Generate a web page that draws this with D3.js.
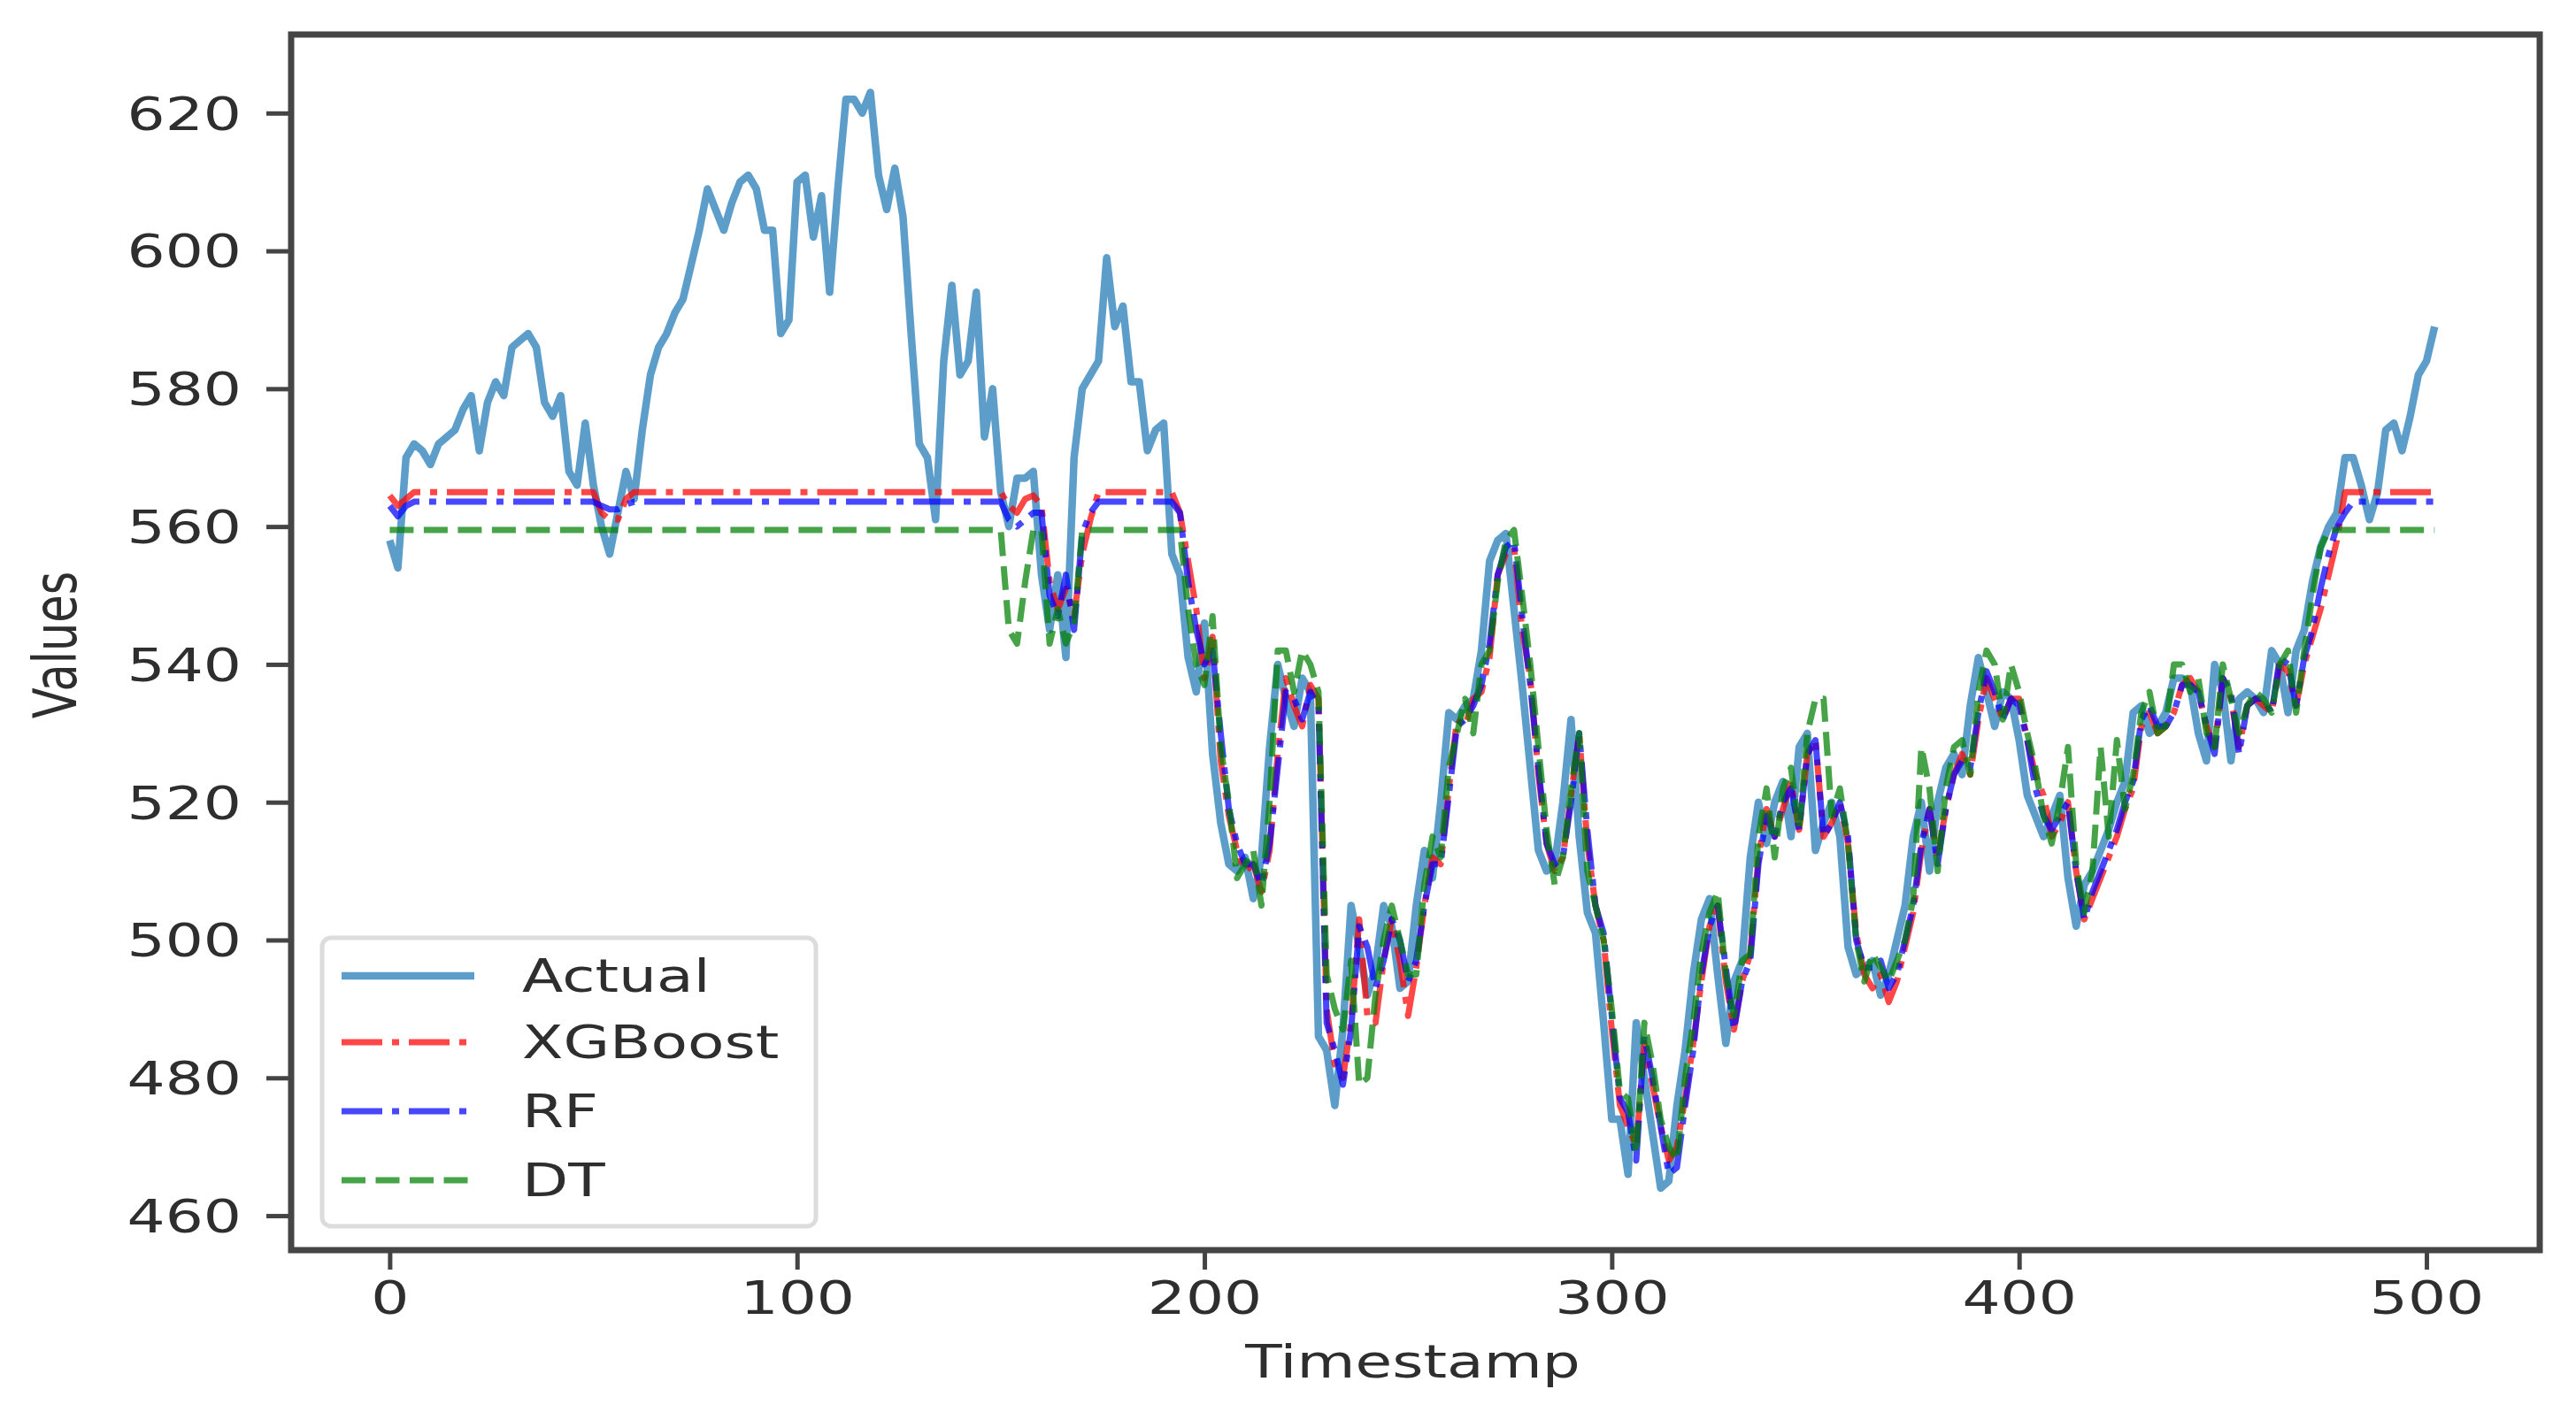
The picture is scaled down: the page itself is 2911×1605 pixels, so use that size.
<!DOCTYPE html>
<html>
<head>
<meta charset="utf-8">
<script src="https://cdn.jsdelivr.net/npm/d3@7"></script>
<style>
  body { margin: 0; background: #fff; }
  svg text { font-family: "DejaVu Sans", sans-serif; }
</style>
</head>
<body>
<div id="chart"></div>
<script>
// Values, one value every 2 timestamps (t = 0, 2, ... 502)
var actual = [
  558,554,570,572,571,569,572,573,574,577,
  579,571,578,581,579,586,587,588,586,578,
  576,579,568,566,575,566,560,556,562,568,
  564,574,582,586,588,591,593,598,603,609,
  606,603,607,610,611,609,603,603,588,590,
  610,611,602,608,594,609,622,622,620,623,
  611,606,612,605,588,572,570,561,584,595,
  582,584,594,573,580,565,560,567,567,568,
  553,545,553,541,570,580,582,584,599,589,
  592,581,581,571,574,575,556,553,541,536,
  546,527,517,511,510,512,506,512,528,540,
  535,531,538,536,486,484,476,487,505,499,
  492,496,505,502,493,494,505,513,509,520,
  533,532,534,535,542,555,558,559,548,537,
  525,513,510,511,520,532,515,504,501,488,
  474,474,466,488,480,472,464,465,476,484,
  495,503,506,495,485,494,497,512,520,514,
  520,523,515,528,530,513,517,520,515,499,
  495,496,497,492,495,500,505,515,520,510,
  520,525,527,524,534,541,536,531,536,535,
  529,521,518,515,518,521,509,502,508,510,
  513,516,520,523,533,534,530,531,533,538,
  538,537,530,526,540,536,526,535,536,535,
  533,542,540,533,542,545,552,557,560,562,
  570,570,566,561,565,574,575,571,576,582,
  584,589
];

var xgboost = [
  564.5,563,564,565,565,565,565,565,565,565,
  565,565,565,565,565,565,565,565,565,565,
  565,565,565,565,565,565,562,561,561,564,
  565,565,565,565,565,565,565,565,565,565,
  565,565,565,565,565,565,565,565,565,565,
  565,565,565,565,565,565,565,565,565,565,
  565,565,565,565,565,565,565,565,565,565,
  565,565,565,565,565,565,563,562,564,564.5,
  563,552,548,551,547,556,561,565,565,565,
  565,565,565,565,565,565,565,562,555,548,
  538,544,526,518,513,510,511,507,513,527,
  538,534,531,537,535,490,482,480,488,503,
  489,488,497,503,497,489,496,505,512,511,
  522,532,531,535,536,541,553,556,557,545,
  538,524,514,510,512,521,530,514,505,500,
  487,476,473,470,485,479,473,468,470,477,
  485,494,502,505,494,487,494,498,512,519,
  515,519,523,516,527,529,515,517,520,514,
  501,495,493,495,491,494,499,504,513,519,
  512,519,524,527,524,532,538,535,532,535,
  535,529,524,521,515,517,520,510,503,506,
  509,512,515,519,522,531,533,530,531,533,
  537,538,536,531,528,538,535,528,534,535,
  534,533,540,539,534,540,544,548,553,558,
  565,565,565,565,565,565,565,565,565,565,
  565,565
];

var rf = [
  563,561.5,563,563.6,563.6,563.6,563.6,563.6,563.6,563.6,
  563.6,563.6,563.6,563.6,563.6,563.6,563.6,563.6,563.6,563.6,
  563.6,563.6,563.6,563.6,563.6,563.6,563,562.5,562.5,563.2,
  563.6,563.6,563.6,563.6,563.6,563.6,563.6,563.6,563.6,563.6,
  563.6,563.6,563.6,563.6,563.6,563.6,563.6,563.6,563.6,563.6,
  563.6,563.6,563.6,563.6,563.6,563.6,563.6,563.6,563.6,563.6,
  563.6,563.6,563.6,563.6,563.6,563.6,563.6,563.6,563.6,563.6,
  563.6,563.6,563.6,563.6,563.6,563.6,561,560,561,562,
  562,550,547,553,545,559,562,563.6,563.6,563.6,
  563.6,563.6,563.6,563.6,563.6,563.6,563.6,562,552,545,
  540,542,530,519,514,511,511,508,514,525,
  536,535,532,536,534,488,484,479,487,502,
  499,493,497,503,500,494,497,505,511,511,
  521,531,532,534,537,543,553,557,558,547,
  537,525,514,511,512,520,530,516,505,501,
  489,477,475,468,486,480,473,466,467,476,
  484,495,502,505,496,487,494,497,511,518,
  515,520,522,516,527,529,515,517,520,515,
  500,496,496,497,493,495,500,505,514,519,
  511,519,524,526,525,533,539,536,532,535,
  534,529,522,518,516,518,520,510,503,507,
  510,513,516,520,523,532,534,531,531,533,
  537,537,536,531,527,538,536,527,534,535,
  535,533,541,540,534,541,545,551,556,560,
  562,563.6,563.6,563.6,563.6,563.6,563.6,563.6,563.6,563.6,
  563.6,563.6
];

var dt = [
  559.5,559.5,559.5,559.5,559.5,559.5,559.5,559.5,559.5,559.5,
  559.5,559.5,559.5,559.5,559.5,559.5,559.5,559.5,559.5,559.5,
  559.5,559.5,559.5,559.5,559.5,559.5,559.5,559.5,559.5,559.5,
  559.5,559.5,559.5,559.5,559.5,559.5,559.5,559.5,559.5,559.5,
  559.5,559.5,559.5,559.5,559.5,559.5,559.5,559.5,559.5,559.5,
  559.5,559.5,559.5,559.5,559.5,559.5,559.5,559.5,559.5,559.5,
  559.5,559.5,559.5,559.5,559.5,559.5,559.5,559.5,559.5,559.5,
  559.5,559.5,559.5,559.5,559.5,559.5,545,543,552,559.5,
  559.5,543,548,543,546,559.5,559.5,559.5,559.5,559.5,
  559.5,559.5,559.5,559.5,559.5,559.5,559.5,559.5,548,540,
  537,547,528,520,509,511,513,505,520,542,
  542,536,542,540,536,495,490,487,497,479,
  480,492,500,505,500,495,495,508,515,512,
  525,530,535,530,540,542,552,558,559.5,550,
  540,528,516,508,512,522,530,510,505,500,
  490,478,477,469,488,482,474,470,468,480,
  488,498,504,507,495,489,497,498,515,522,
  512,522,525,516,530,535,535,518,522,514,
  500,494,498,496,494,497,500,506,528,522,
  510,522,528,529,524,536,542,540,532,540,
  536,530,525,518,514,520,528,511,504,510,
  528,515,529,519,524,533,536,530,531,540,
  540,536,538,530,528,540,535,530,534,536,
  535,533,540,542,533,542,550,557,559.5,559.5,
  559.5,559.5,559.5,559.5,559.5,559.5,559.5,559.5,559.5,559.5,
  559.5,559.5
];

var timestamps = d3.range(0, actual.length * 2, 2);
var xTicks = [0, 100, 200, 300, 400, 500];
var yTicks = [460, 480, 500, 520, 540, 560, 580, 600, 620];
var seriesNames = ["Actual", "XGBoost", "RF", "DT"];

var totalWidth = 2911, totalHeight = 1605;
var margin = {top: 39, right: 41, bottom: 192, left: 329};
var width = totalWidth - margin.left - margin.right,
    height = totalHeight - margin.top - margin.bottom;
var stretch = 1.33;   // the picture is wider than it is tall
var fontSize = 51;
var textColor = "#2e2e2e";

var series = [
  {name: seriesNames[0], values: actual,  color: "#1f77b4", dash: null,          width: 8.5},
  {name: seriesNames[1], values: xgboost, color: "#ff0000", dash: "46,11,8,11",  width: 7},
  {name: seriesNames[2], values: rf,      color: "#0000ff", dash: "46,11,8,11",  width: 7},
  {name: seriesNames[3], values: dt,      color: "#008000", dash: "27,11.5",     width: 7}
];

var svg = d3.select("#chart").append("svg")
    .attr("width", totalWidth)
    .attr("height", totalHeight)
    .style("background", "#fff");

var g = svg.append("g")
    .attr("transform", "translate(" + margin.left + "," + margin.top + ")");

var x = d3.scaleLinear().domain([-24.2, 527.8]).range([0, width]);
var y = d3.scaleLinear().domain([455, 631.4]).range([height, 0]);

// lines
var line = d3.line()
    .x(function(d, i) { return x(timestamps[i]); })
    .y(function(d) { return y(d); });

series.forEach(function(s) {
    g.append("path")
        .datum(s.values)
        .attr("fill", "none")
        .attr("stroke", s.color)
        .attr("stroke-opacity", 0.72)
        .attr("stroke-width", s.width)
        .attr("stroke-linejoin", "round")
        .attr("stroke-dasharray", s.dash)
        .attr("d", line);
});

// axes
var yAxis = g.append("g")
    .attr("color", "#444")
    .call(d3.axisLeft(y).tickValues(yTicks).tickSize(28).tickFormat(d3.format("d")));
yAxis.select(".domain").remove();
yAxis.selectAll(".tick line").attr("stroke-width", 5);
yAxis.selectAll(".tick text")
    .attr("x", 0)
    .attr("dy", "0.36em")
    .attr("font-size", fontSize)
    .attr("font-family", "DejaVu Sans")
    .attr("fill", textColor)
    .attr("transform", "translate(-56,0) scale(" + stretch + ",1)");

var xAxis = g.append("g")
    .attr("transform", "translate(0," + height + ")")
    .attr("color", "#444")
    .call(d3.axisBottom(x).tickValues(xTicks).tickSize(22).tickFormat(d3.format("d")));
xAxis.select(".domain").remove();
xAxis.selectAll(".tick line").attr("stroke-width", 5);
xAxis.selectAll(".tick text")
    .attr("y", 0)
    .attr("dy", "0.71em")
    .attr("font-size", fontSize)
    .attr("font-family", "DejaVu Sans")
    .attr("fill", textColor)
    .attr("transform", "translate(0,36) scale(" + stretch + ",1)");

// frame
g.append("rect")
    .attr("x", 0).attr("y", 0)
    .attr("width", width).attr("height", height)
    .attr("fill", "none")
    .attr("stroke", "#454545")
    .attr("stroke-width", 7);

// axis titles
svg.append("text")
    .attr("text-anchor", "middle")
    .attr("font-size", fontSize)
    .attr("fill", textColor)
    .attr("transform", "translate(" + (margin.left + width / 2 - 3) + ",1557) scale(" + stretch + ",1)")
    .text("Timestamp");

svg.append("text")
    .attr("text-anchor", "middle")
    .attr("font-size", fontSize)
    .attr("fill", textColor)
    .attr("transform", "translate(86," + (margin.top + height / 2 + 3) + ") scale(" + stretch + ",1) rotate(-90)")
    .text("Values");

// legend
var legend = svg.append("g").attr("transform", "translate(364,1060)");
legend.append("rect")
    .attr("width", 558).attr("height", 326)
    .attr("rx", 10)
    .attr("fill", "#fff").attr("fill-opacity", 0.8)
    .attr("stroke", "#dcdcdc").attr("stroke-width", 5);

var rowY = [43, 118, 196, 274];
series.forEach(function(s, i) {
    legend.append("line")
        .attr("x1", 22).attr("x2", 172)
        .attr("y1", rowY[i]).attr("y2", rowY[i])
        .attr("stroke", s.color)
        .attr("stroke-opacity", 0.72)
        .attr("stroke-width", s.width)
        .attr("stroke-dasharray", s.dash);
    legend.append("text")
        .attr("dy", "0.36em")
        .attr("font-size", fontSize)
        .attr("fill", textColor)
        .attr("transform", "translate(226," + rowY[i] + ") scale(" + stretch + ",1)")
        .text(s.name);
});
</script>
</body>
</html>
